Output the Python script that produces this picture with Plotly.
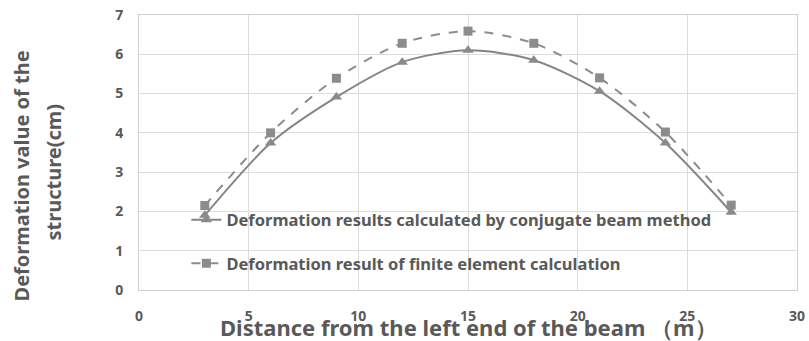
import plotly.graph_objects as go

x_pos = [3, 6, 9, 12, 15, 18, 21, 24, 27]
conjugate = [1.9, 3.74, 4.91, 5.8, 6.1, 5.85, 5.06, 3.74, 1.98]
fem = [2.15, 4.0, 5.39, 6.28, 6.59, 6.28, 5.4, 4.02, 2.16]
x_ticks = [0, 5, 10, 15, 20, 25, 30]
y_ticks = [0, 1, 2, 3, 4, 5, 6, 7]

name_conj = "Deformation results calculated by conjugate beam method"
name_fem = "Deformation result of finite element calculation"
y_title_1 = "Deformation value of the"
y_title_2 = "structure(cm)"
x_title = "Distance from the left end of the beam （m）"

FONT = "Noto Sans"
TXT = "#595959"

fig = go.Figure()
fig.add_trace(go.Scatter(
    x=x_pos, y=conjugate, name=name_conj, mode="lines+markers",
    line=dict(color="#858585", width=2, shape="spline", smoothing=0.8),
    marker=dict(symbol="triangle-up", size=10, color="#8a8a8a"),
    legendgroup="a",
))
fig.add_trace(go.Scatter(
    x=x_pos, y=fem, name=name_fem, mode="lines+markers",
    line=dict(color="#8c8c8c", width=2, dash="dash", shape="spline", smoothing=0.8),
    marker=dict(symbol="square", size=9, color="#8c8c8c"),
    legendgroup="b",
))

fig.update_layout(
    width=809, height=341,
    margin=dict(l=139, r=12, t=15, b=51, autoexpand=False),
    paper_bgcolor="white", plot_bgcolor="white",
    font=dict(family=FONT, color=TXT),
    showlegend=True,
    legend=dict(
        x=0.072, y=0.318, xanchor="left", yanchor="top",
        bgcolor="rgba(0,0,0,0)",
        font=dict(family=FONT, size=16.5, color=TXT, weight="bold"),
        traceorder="grouped", tracegroupgap=19, itemwidth=30,
    ),
    xaxis=dict(
        range=[0, 30], tickvals=x_ticks, showgrid=True, gridcolor="#dcdcdc",
        showline=True, linecolor="#d0d0d0", mirror=True, zeroline=False,
        tickfont=dict(family=FONT, size=14, color=TXT, weight="bold"),
        ticklabelstandoff=13, fixedrange=True, automargin=False,
    ),
    yaxis=dict(
        range=[0, 7], tickvals=y_ticks, showgrid=True, gridcolor="#dcdcdc",
        showline=True, linecolor="#d0d0d0", mirror=True, zeroline=False,
        tickfont=dict(family=FONT, size=14, color=TXT, weight="bold"),
        ticklabelstandoff=12, fixedrange=True, automargin=False,
    ),
    annotations=[
        dict(text=y_title_1, textangle=-90,
             xref="paper", yref="paper", x=0, y=0.4127, xanchor="center", yanchor="middle",
             xshift=-117, showarrow=False,
             font=dict(family=FONT, size=20, color=TXT, weight="bold")),
        dict(text=y_title_2, textangle=-90,
             xref="paper", yref="paper", x=0, y=0.4273, xanchor="center", yanchor="middle",
             xshift=-86, showarrow=False,
             font=dict(family=FONT, size=20, color=TXT, weight="bold")),
        dict(text=x_title,
             xref="paper", yref="paper", x=0.5, y=-0.1345, xanchor="center", yanchor="middle",
             showarrow=False,
             font=dict(family=FONT, size=22, color=TXT, weight="bold")),
    ],
)

fig.write_html("out.html", config={"displayModeBar": False},
               post_script="document.body.style.margin='0';document.body.style.overflow='hidden';")
